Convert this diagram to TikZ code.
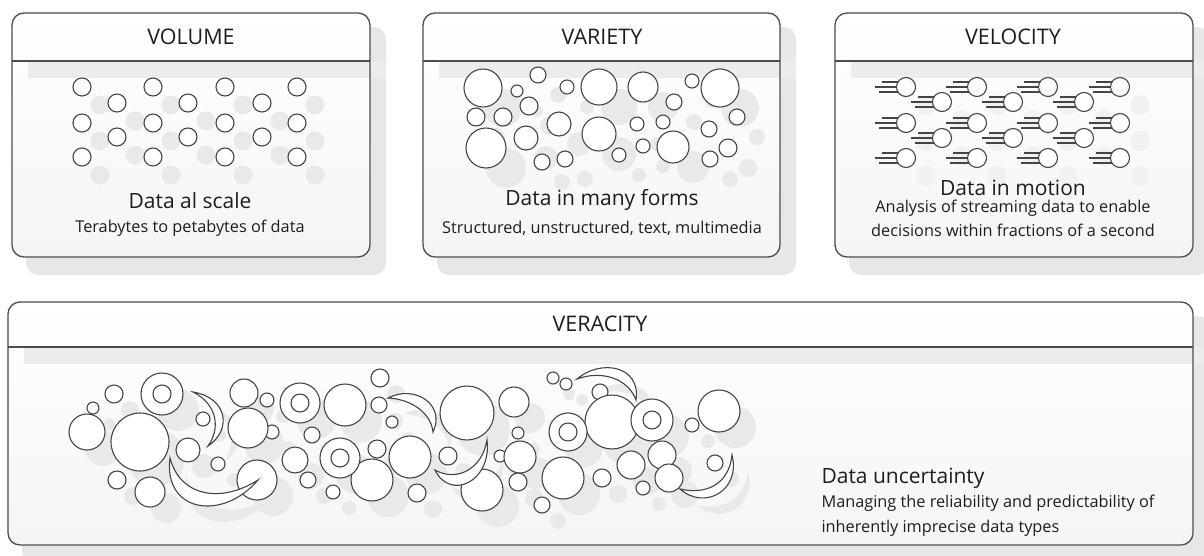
\documentclass[tikz,border=0pt]{standalone}
\usepackage{fontspec}
\setmainfont{Open Sans}
\usepackage{tikz}
\usetikzlibrary{positioning}

\definecolor{bubbleline}{HTML}{454545}
\definecolor{textgray}{HTML}{1e1e1e}

\tikzset{
  bubble/.style={draw=bubbleline, line width=1.1pt, fill=white},
  bubbleshade/.style={fill=gray!17},
  cometshade/.style={fill=gray!11},
  streak/.style={draw=bubbleline, line width=1.2pt},
  boxline/.style={draw=gray!60!black, line width=1.3pt},
  boxshadow/.style={fill=gray!19},
  headband/.style={fill=gray!15},
  boxtitle/.style={font=\fontsize{21.5}{24}\selectfont, text=textgray},
  boxmain/.style={font=\fontsize{21}{24}\selectfont, text=textgray},
  boxsub/.style={font=\fontsize{16.3}{20}\selectfont, text=textgray},
}

% frame: left, top, right, bottom, header line
\newcommand{\infobox}[5]{%
  \fill[boxshadow, rounded corners=12pt] (#1+14,#2+14) rectangle (#3+16,#4+18);
  \shade[top color=white, bottom color=gray!8, rounded corners=12pt] (#1,#2) rectangle (#3,#4);
  \fill[headband] (#1+16,#5) rectangle (#3+16,#5+17);
  \draw[boxline, rounded corners=12pt] (#1,#2) rectangle (#3,#4);
  \draw[boxline] (#1,#5) -- (#3,#5);
}

% bubbles of the veracity panel
\newcommand{\veracitybubbles}[1]{%
  \foreach \bx/\by/\br in {87/432/18, 93/408/6, 114/394/9, 203/419/7, 188/450/12,
      218/464/7, 267/400/7, 272/432/7, 244/393/14, 248/428/20, 140/442/29,
      117/480/9, 150/492/15, 257/480/20, 295/460/13, 380/378/9, 379/405/8,
      392/422/6, 312/435/8, 345/405/21, 308/480/8, 333/492/7, 377/449/9,
      372/480/21, 410/457/21, 448/456/9, 467/413/27, 417/493/9, 482/490/21,
      514/402/15, 518/433/6, 500/456/6, 520/457/16, 518/482/9, 553/378/6,
      566/384/6, 600/392/8, 542/505/8, 563/478/21, 602/478/9, 612/422/27,
      692/425/7, 719/411/21, 631/465/14, 662/455/14, 669/478/14, 643/488/7,
      715/463/8}
    \path[#1] (\bx,\by) circle[radius=\br pt];
  \foreach \bx/\by/\bo/\bi in {162/394/21/9, 300/403/20/9, 340/458/20/9,
      568/432/19/9, 652/420/21/9}{
    \path[#1] (\bx,\by) circle[radius=\bo pt];
    \path[#1] (\bx,\by) circle[radius=\bi pt];
  }
  % crescents
  \path[#1] (193,392) .. controls (228,398) and (232,430) .. (208,446)
    .. controls (221,428) and (217,404) .. cycle;
  \path[#1] (170,458) .. controls (163,512) and (222,522) .. (258,480)
    .. controls (220,504) and (180,496) .. cycle;
  \path[#1] (388,398) .. controls (415,384) and (446,405) .. (433,432)
    .. controls (431,412) and (410,399) .. cycle;
  \path[#1] (435,470) .. controls (450,501) and (492,482) .. (487,440)
    .. controls (482,470) and (456,482) .. cycle;
  \path[#1] (577,379) .. controls (600,359) and (641,365) .. (636,400)
    .. controls (628,378) and (601,370) .. cycle;
  \path[#1] (680,489) .. controls (705,511) and (741,490) .. (732,455)
    .. controls (729,485) and (705,495) .. cycle;
}

\begin{document}
\begin{tikzpicture}[x=1pt, y=-1pt]
  \useasboundingbox (0,0) rectangle (1204,555);

  \infobox{12}{13}{370}{257}{61}
  \infobox{423}{13}{780}{257}{61}
  \infobox{835}{13}{1193}{257}{61}
  \infobox{8}{302}{1193}{545}{347}

  % volume
  \begin{scope}[shift={(18,18)}]
    \foreach \bx in {82,153,225,297} \foreach \by in {87,123,157}
      \path[bubbleshade] (\bx,\by) circle[radius=9.5pt];
    \foreach \bx in {117,188,262} \foreach \by in {103,137}
      \path[bubbleshade] (\bx,\by) circle[radius=9.5pt];
  \end{scope}
  \foreach \bx in {82,153,225,297} \foreach \by in {87,123,157}
    \path[bubble] (\bx,\by) circle[radius=9pt];
  \foreach \bx in {117,188,262} \foreach \by in {103,137}
    \path[bubble] (\bx,\by) circle[radius=9pt];

  \node[boxtitle] (voltitle) at (191,37) {VOLUME};
  \node[boxmain] (volmain) at (190,201) {Data al scale};
  \node[boxsub] (volsub) at (190,228) {Terabytes to petabytes of data};

  % variety
  \begin{scope}[shift={(20,20)}]
    \foreach \bx/\by/\br in {483/88/19, 538/75/8, 517/91/6, 529/106/9, 476/117/9,
        503/117/9, 486/148/20, 526/138/12, 542/162/8, 565/159/8, 567/87/7,
        599/87/18, 559/124/12, 599/134/17, 643/87/15, 674/102/8, 637/124/7,
        663/122/7, 643/146/7, 673/147/16, 619/155/7, 692/81/7, 720/88/19,
        737/117/8, 709/129/8, 728/148/9, 710/159/8}
      \path[bubbleshade] (\bx,\by) circle[radius=\br pt];
  \end{scope}
  \foreach \bx/\by/\br in {483/88/19, 538/75/8, 517/91/6, 529/106/9, 476/117/9,
      503/117/9, 486/148/20, 526/138/12, 542/162/8, 565/159/8, 567/87/7,
      599/87/18, 559/124/12, 599/134/17, 643/87/15, 674/102/8, 637/124/7,
      663/122/7, 643/146/7, 673/147/16, 619/155/7, 692/81/7, 720/88/19,
      737/117/8, 709/129/8, 728/148/9, 710/159/8}
    \path[bubble] (\bx,\by) circle[radius=\br pt];

  \node[boxtitle] (vartitle) at (602,37) {VARIETY};
  \node[boxmain] (varmain) at (602,200) {Data in many forms};
  \node[boxsub] (varsub) at (602,228) {Structured, unstructured, text, multimedia};

  % velocity
  \begin{scope}[shift={(20,18)}]
    \foreach \bx/\by in {906/87, 906/123, 906/158, 977/87, 977/123, 977/158,
        1048/87, 1048/123, 1048/158, 1120/87, 1120/123, 1120/158,
        942/102, 942/138, 1013/102, 1013/138, 1084/102, 1084/138}
      \path[cometshade] (\bx,\by) circle[radius=10pt];
  \end{scope}
  \foreach \bx/\by in {906/87, 906/123, 906/158, 977/87, 977/123, 977/158,
      1048/87, 1048/123, 1048/158, 1120/87, 1120/123, 1120/158,
      942/102, 942/138, 1013/102, 1013/138, 1084/102, 1084/138}{
    \draw[streak] (\bx-24,\by-5) -- (\bx-7,\by-5);
    \draw[streak] (\bx-31,\by) -- (\bx-9,\by);
    \draw[streak] (\bx-27,\by+5) -- (\bx-7,\by+5);
    \path[bubble] (\bx,\by) circle[radius=9.5pt];
  }

  \node[boxtitle] (veltitle) at (1013,37) {VELOCITY};
  \node[boxmain] (velmain) at (1013,188) {Data in motion};
  \node[boxsub] (velsubA) at (1013,208) {Analysis of streaming data to enable};
  \node[boxsub] (velsubB) at (1013,230) {decisions within fractions of a second};

  % veracity
  \begin{scope}[shift={(16,16)}]
    \veracitybubbles{bubbleshade}
  \end{scope}
  \veracitybubbles{bubble}

  \node[boxtitle] (vertitle) at (600,324) {VERACITY};
  \node[boxmain, anchor=west] (vermain) at (818,478) {Data uncertainty};
  \node[boxsub, anchor=west] (versubA) at (818,503) {Managing the reliability and predictability of};
  \node[boxsub, anchor=west] (versubB) at (818,528) {inherently imprecise data types};
\end{tikzpicture}
\end{document}
